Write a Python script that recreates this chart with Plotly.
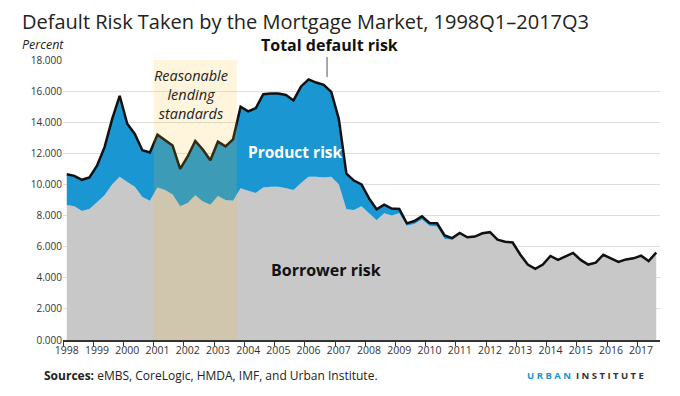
import plotly.graph_objects as go

# Quarterly categories 1998Q1 .. 2017Q3
quarters = [f"{y}Q{q}" for y in range(1998, 2018) for q in range(1, 5)][:79]

total_risk = [
    10.65, 10.55, 10.30, 10.45, 11.20, 12.40, 14.20, 15.70, 13.90, 13.25, 12.20, 12.05,
    13.20, 12.85, 12.50, 11.00, 11.80, 12.80, 12.25, 11.55, 12.75, 12.45, 12.90, 15.00,
    14.70, 14.90, 15.80, 15.85, 15.85, 15.75, 15.40, 16.30, 16.75, 16.55, 16.40, 15.95,
    14.20, 10.70, 10.25, 10.00, 9.10, 8.40, 8.70, 8.45, 8.42, 7.50, 7.65, 7.95,
    7.52, 7.50, 6.72, 6.55, 6.88, 6.60, 6.65, 6.86, 6.93, 6.45, 6.32, 6.27,
    5.50, 4.85, 4.58, 4.85, 5.40, 5.15, 5.38, 5.60, 5.15, 4.85, 4.97, 5.48,
    5.25, 5.02, 5.18, 5.25, 5.42, 5.08, 5.62,
]

borrower_risk = [
    8.68, 8.60, 8.30, 8.42, 8.85, 9.30, 10.00, 10.50, 10.15, 9.85, 9.20, 8.95,
    9.80, 9.65, 9.35, 8.60, 8.80, 9.30, 8.90, 8.70, 9.25, 9.00, 8.95, 9.75,
    9.60, 9.45, 9.80, 9.85, 9.85, 9.75, 9.65, 10.10, 10.50, 10.50, 10.45, 10.50,
    10.00, 8.40, 8.35, 8.60, 8.15, 7.70, 8.15, 8.00, 8.15, 7.35, 7.45, 7.75,
    7.35, 7.30, 6.50, 6.45, 6.80, 6.55, 6.60, 6.80, 6.90, 6.40, 6.28, 6.22,
    5.45, 4.80, 4.52, 4.80, 5.33, 5.10, 5.30, 5.55, 5.10, 4.80, 4.92, 5.42,
    5.20, 4.97, 5.13, 5.20, 5.37, 5.03, 5.57,
]

year_ticks = list(range(1998, 2018))
year_labels = [str(y) for y in year_ticks]
y_ticks = [0, 2, 4, 6, 8, 10, 12, 14, 16, 18]

# numeric position of each quarter
t = [int(s[:4]) + (int(s[-1]) - 1) / 4 for s in quarters]

FONT = "'Open Sans', Lato, sans-serif"

fig = go.Figure()
fig.add_trace(go.Scatter(
    x=t, y=borrower_risk, mode="none", fill="tozeroy",
    fillcolor="#c8c8c8", name="Borrower risk", hoverinfo="skip",
))
fig.add_trace(go.Scatter(
    x=t, y=total_risk, mode="lines", fill="tonexty",
    fillcolor="#1a96d3", line=dict(color="#111111", width=2.5),
    name="Total default risk",
))

# Reasonable lending standards band
fig.add_shape(type="rect", xref="x", yref="paper",
              x0=2000.875, x1=2003.625, y0=0, y1=1,
              fillcolor="#fdbf11", opacity=0.15, line=dict(width=0), layer="above")

# pointer for total default risk
fig.add_shape(type="line", xref="x", yref="paper",
              x0=2006.61, x1=2006.61, y0=0.939, y1=1.011,
              line=dict(color="#555555", width=1))

fig.update_layout(
    width=672, height=388,
    margin=dict(l=55, r=20, t=52, b=56, autoexpand=False),
    paper_bgcolor="white", plot_bgcolor="white",
    showlegend=False,
    font=dict(family=FONT, color="#333333"),
    xaxis=dict(
        range=[1997.875, 2017.625], automargin=False,
        tickvals=year_ticks, ticktext=year_labels,
        ticks="", showgrid=False, zeroline=False,
        showline=True, linecolor="#333333", linewidth=1.5,
        tickfont=dict(size=10.5, color="#333333", family=FONT),
        minor=dict(tick0=1997.875, dtick=1, ticks="outside", ticklen=4,
                   tickcolor="#333333", tickwidth=1.2, showgrid=False),
    ),
    yaxis=dict(
        range=[0, 18], tickvals=y_ticks, tickformat=".3f", automargin=False,
        showgrid=True, gridcolor="#dedede", gridwidth=1,
        zeroline=False, showline=False, ticks="",
        tickfont=dict(size=10, color="#333333", family=FONT),
    ),
)

fig.add_annotation(xref="paper", yref="paper", x=-0.072, y=1.139,
                   xanchor="left", yanchor="middle", showarrow=False,
                   text="Default Risk Taken by the Mortgage Market, 1998Q1\u20132017Q3",
                   font=dict(size=20, color="#222222", family=FONT))
fig.add_annotation(xref="paper", yref="paper", x=-0.072, y=1.056,
                   xanchor="left", yanchor="middle", showarrow=False,
                   text="<i>Percent</i>", font=dict(size=12.5, color="#222222", family=FONT))
fig.add_annotation(xref="x", yref="paper", x=2006.68, y=1.0536,
                   xanchor="center", yanchor="middle", showarrow=False,
                   text="<b>Total default risk</b>", font=dict(size=16, color="#111111", family=FONT))
fig.add_annotation(xref="x", yref="y", x=2002.12, y=15.8,
                   xanchor="center", yanchor="middle", showarrow=False,
                   text="<i>Reasonable<br>lending<br>standards</i>",
                   font=dict(size=14.5, color="#222222", family=FONT))
fig.add_annotation(xref="x", yref="y", x=2005.58, y=12.08,
                   xanchor="center", yanchor="middle", showarrow=False,
                   text="<b>Product risk</b>", font=dict(size=15.5, color="white", family=FONT))
fig.add_annotation(xref="x", yref="y", x=2006.58, y=4.5,
                   xanchor="center", yanchor="middle", showarrow=False,
                   text="<b>Borrower risk</b>", font=dict(size=16, color="#111111", family=FONT))
fig.add_annotation(xref="paper", yref="paper", x=-0.035, y=-0.125,
                   xanchor="left", yanchor="middle", showarrow=False,
                   text="<b>Sources:</b> eMBS, CoreLogic, HMDA, IMF, and Urban Institute.",
                   font=dict(size=12, color="#222222", family=FONT))
fig.add_annotation(xref="paper", yref="paper", x=0.9765, y=-0.125,
                   xanchor="right", yanchor="middle", showarrow=False,
                   text="<b><span style='color:#1696d2'>U R B A N</span>  I N S T I T U T E</b>",
                   font=dict(size=9.5, color="#333333", family=FONT))

fig.write_html("out.html")
